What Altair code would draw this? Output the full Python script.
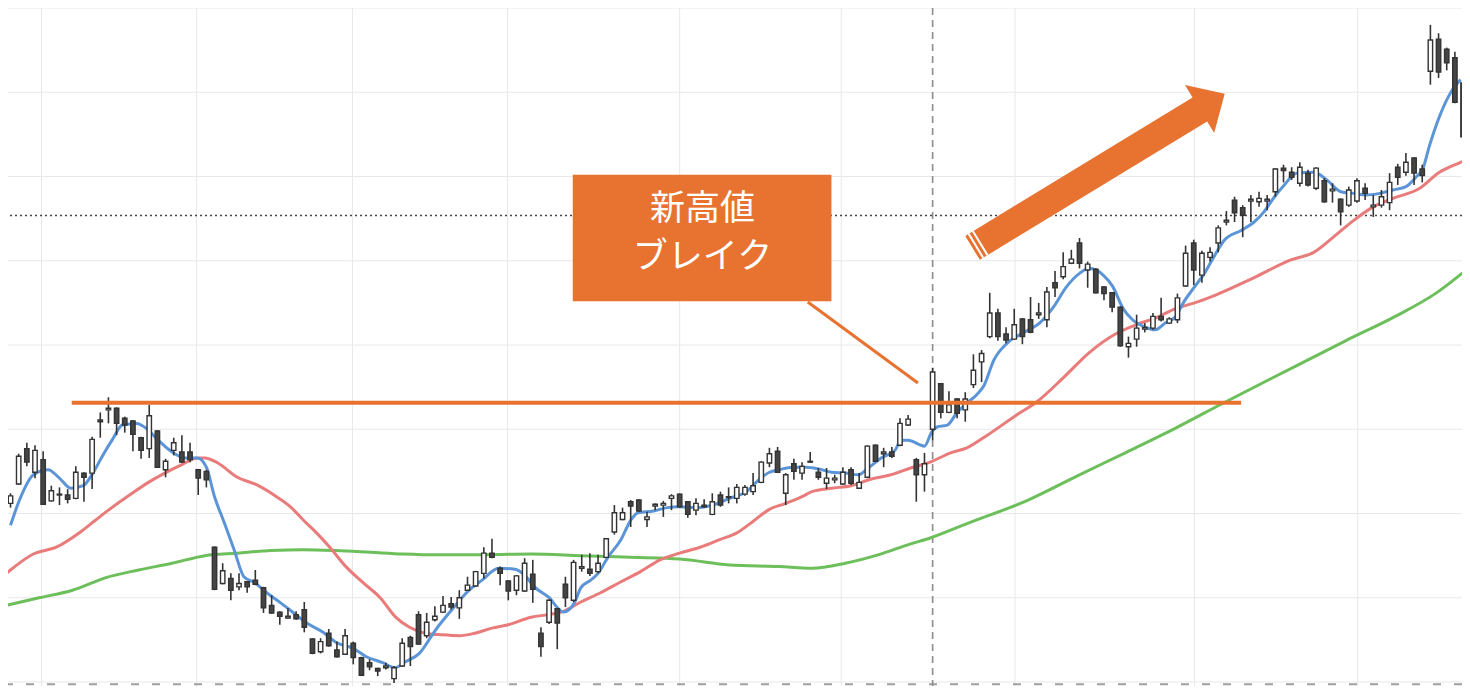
import altair as alt
import pandas as pd

# ---- candle data (index = trading day) ----
OPEN = [1012,1035,1077,1049,1064,1015,1022,1022,1018,1048,1048,1111,1123,1125,1113,1110,1090,1077,1098,1052,
        1075,1073,1073,1052,1050,960,917,923,913,919,921,912,891,883,876,880,886,851,836,858,
        838,833,846,829,823,816,817,804,819,853,880,855,874,883,893,888,909,914,929,953,
        935,920,909,908,928,858,871,887,916,897,935,934,931,948,978,993,1014,1016,993,1009,
        1010,1018,1023,1014,1004,1010,999,1022,1020,1018,1023,1026,1037,1060,1074,1024,1059,1048,1061,1049,
        1036,1040,1035,1052,1030,1043,1081,1071,1073,1081,1105,1064,1046,1100,1154,1120,1136,1123,1153,1180,
        1210,1238,1213,1207,1231,1230,1236,1230,1274,1281,1297,1321,1289,1290,1269,1262,1245,1198,1207,1219,
        1220,1234,1226,1230,1270,1321,1283,1304,1321,1346,1372,1363,1371,1370,1371,1382,1410,1405,1392,1404,
        1386,1395,1383,1373,1366,1371,1386,1364,1366,1369,1411,1405,1422,1409,1525,1563,1551,1541,1511]
HIGH = [1024,1071,1084,1081,1074,1033,1031,1029,1056,1049,1091,1120,1138,1126,1115,1111,1091,1129,1099,1065,
        1090,1093,1084,1053,1052,961,941,929,929,920,933,913,903,884,888,884,895,852,852,863,
        848,863,848,830,827,817,823,819,852,855,884,882,890,902,901,909,925,932,960,970,
        937,921,927,947,945,865,898,888,925,945,951,953,951,971,1010,1007,1016,1017,1002,1012,
        1015,1023,1024,1015,1018,1017,1024,1026,1031,1035,1034,1048,1062,1078,1079,1048,1065,1061,1073,1054,
        1054,1046,1055,1055,1048,1081,1082,1078,1079,1113,1117,1066,1072,1173,1155,1145,1137,1144,1189,1194,
        1262,1243,1221,1243,1232,1257,1250,1269,1288,1310,1313,1327,1299,1291,1270,1263,1246,1210,1236,1226,
        1238,1256,1233,1261,1318,1325,1312,1316,1342,1359,1376,1366,1378,1382,1378,1410,1414,1411,1417,1408,
        1411,1398,1392,1374,1388,1398,1392,1378,1384,1404,1415,1428,1423,1414,1580,1570,1553,1548,1515]
LOW = [1007,1034,1056,1042,1010,1014,1010,1012,1017,1014,1029,1090,1107,1093,1096,1074,1065,1066,1054,1043,
       1069,1060,1061,1022,1031,909,916,897,909,906,915,882,881,868,875,874,859,833,834,842,
       829,832,821,807,814,807,815,799,818,819,844,852,872,882,886,875,908,913,923,947,
       915,897,903,907,894,830,869,839,889,895,931,926,929,947,975,992,984,1002,984,1004,
       996,1004,1007,995,998,1007,998,1008,1012,1012,1021,1022,1036,1055,1048,1010,1040,1040,1060,1040,
       1029,1036,1034,1034,1029,1042,1061,1055,1066,1080,1104,1014,1026,1087,1113,1119,1113,1109,1149,1156,
       1208,1205,1202,1206,1201,1214,1231,1221,1257,1278,1296,1291,1268,1261,1253,1239,1198,1185,1198,1215,
       1218,1228,1225,1226,1269,1271,1274,1299,1310,1342,1346,1328,1346,1364,1360,1376,1393,1396,1388,1388,
       1384,1369,1369,1342,1364,1369,1372,1352,1363,1360,1390,1401,1390,1393,1509,1517,1526,1487,1446]
CLOSE = [1021,1068,1061,1075,1011,1027,1023,1017,1049,1043,1088,1109,1125,1107,1105,1094,1075,1116,1055,1062,
         1084,1061,1064,1042,1040,910,932,909,917,913,916,888,882,878,878,875,865,834,848,843,
         830,855,829,808,818,813,819,817,846,842,845,871,878,891,889,900,915,931,953,948,
         929,908,926,941,910,842,897,870,900,942,937,929,941,970,1001,1001,1009,1003,996,1011,
         1012,1021,1008,999,1012,1008,1014,1010,1019,1031,1031,1033,1061,1071,1049,1046,1050,1056,1062,1043,
         1042,1042,1049,1036,1037,1080,1062,1073,1068,1107,1112,1046,1059,1168,1120,1129,1119,1136,1170,1190,
         1238,1210,1206,1224,1210,1215,1238,1263,1268,1293,1302,1297,1296,1262,1261,1245,1199,1202,1220,1221,
         1234,1230,1231,1256,1309,1289,1309,1310,1339,1348,1357,1354,1373,1374,1373,1409,1407,1399,1411,1390,
         1410,1370,1385,1358,1384,1395,1380,1366,1376,1393,1399,1417,1404,1401,1562,1524,1535,1488,1447]

# ---- moving averages: (day index, price) ----
MA_SHORT = [(0,986),(1.1,1016),(2.8,1046),(4.6,1052),(5.9,1043),(7.4,1030),(8.9,1033),(10.1,1048),(11.3,1069),
            (12.5,1088),(13.7,1105),(15.5,1107),(16.5,1102),(18.1,1087),(19.8,1073),(21.4,1066),(22.9,1066),
            (24.0,1055),(25.0,1020),(26.2,989),(27.4,957),(28.6,925),(29.9,918),(31.4,906),(33.1,894),
            (34.7,882),(36.3,870),(38.3,859),(39.9,847),(42.0,840),(43.6,830),(45.6,823),(47.1,817),
            (48.4,824),(50.1,834),(52.1,862),(54.1,886),(56.2,909),(57.8,921),(59.8,935),(61.8,934),
            (63.0,927),(64.2,913),(65.9,901),(67.8,883),(69.1,894),(69.9,912),(71.1,921),(72.0,929),
            (73.2,948),(74.8,969),(76.0,992),(76.9,1001),(78.8,1003),(80.5,1007),(82.0,1008),(84.1,1007),
            (86.0,1010),(88.1,1018),(90.2,1026),(91.7,1040),(93.0,1049),(94.2,1052),(95.8,1055),(97.5,1055),
            (99.0,1053),(100.6,1049),(102.3,1048),(103.9,1046),(105.1,1054),(106.7,1066),(108.4,1075),
            (109.1,1087),(110.0,1087),(112.0,1080),(112.9,1097),(113.6,1103),(114.8,1105),(116.0,1120),
            (117.2,1131),(118.4,1141),(119.3,1152),(120.5,1182),(122.1,1202),(124.2,1215),(126.1,1226),
            (127.8,1245),(129.4,1269),(131.0,1285),(132.2,1291),(133.9,1283),(135.1,1269),(136.3,1244),
            (137.5,1230),(139.1,1221),(140.3,1218),(141.5,1226),(142.7,1233),(143.9,1253),(145.1,1269),
            (146.3,1285),(147.6,1307),(148.8,1325),(150.8,1336),(152.4,1346),(153.6,1358),(154.9,1376),
            (156.1,1390),(157.6,1404),(159.7,1405),(161.3,1396),(163.0,1382),(164.6,1380),(166.1,1378),
            (167.8,1380),(169.4,1384),(171.0,1388),(172.2,1399),(173.1,1410),(173.9,1437),(175.1,1471),
            (176.7,1503),(177.7,1515)]
MA_MID = [(-0.5,929),(2.8,952),(5.6,960),(8.4,977),(10.4,992),(12.0,1004),(14.9,1024),(16.9,1037),(18.9,1048),
          (21.0,1058),(22.9,1066),(23.8,1066),(25.4,1060),(27.8,1043),(30.2,1034),(32.6,1020),(34.3,1008),
          (35.9,992),(37.5,977),(39.2,959),(41.1,937),(43.2,918),(45.3,900),(47.2,877),(48.9,865),(50.8,858),
          (52.9,856),(55.0,855),(56.9,858),(59.0,864),(61.0,868),(63.8,877),(65.9,880),(67.5,883),(69.9,895),
          (72.3,906),(74.8,919),(77.2,931),(79.6,945),(82.0,953),(84.5,960),(86.9,969),(89.0,977),(90.9,990),
          (93.0,1005),(95.0,1012),(97.0,1020),(98.2,1026),(100.6,1030),(103.0,1033),(105.5,1041),(107.9,1046),
          (110.3,1054),(112.7,1061),(115.2,1072),(117.2,1078),(119.7,1093),(123.3,1117),(125.7,1132),
          (129.0,1161),(132.2,1191),(135.4,1213),(137.9,1224),(140.3,1232),(142.7,1243),(145.1,1250),
          (147.6,1259),(152.4,1280),(156.9,1301),(159.7,1310),(162.1,1328),(164.6,1348),(167.0,1364),
          (169.4,1374),(172.7,1386),(175.1,1405),(177.5,1416),(178.5,1420)]
MA_LONG = [(-0.5,891),(3.5,900),(7.6,909),(11.7,924),(15.7,933),(19.8,941),(23.8,950),(27.8,953),(31.9,956),
           (35.9,957),(39.9,956),(44.1,954),(48.1,952),(52.1,951),(56.2,951),(63.8,952),(69.9,950),(76.0,948),
           (82.0,946),(88.1,939),(94.2,937),(98.2,935),(102.3,941),(106.3,951),(110.3,964),(112.7,971),
           (117.2,988),(124.7,1016),(130.8,1045),(136.8,1073),(142.9,1102),(148.4,1130),(157.5,1175),
           (163.6,1205),(169.7,1234),(174.6,1261),(178.5,1290)]

# ---- reference lines / grid ----
GRID_PRICES = [800, 900, 1000, 1100, 1200, 1300, 1400, 1500, 1600]
GRID_DAYS = [3.8, 22.8, 41.9, 60.9, 82.0, 101.8, 123.1, 145.1, 165.1]
BREAK_DAY = [113]
LAST_PRICE = [1353.7]
BOTTOM_LINE = [797.5]
RESIST = {"x": [7.5], "x2": [150.8], "y": [1131.5]}
BOX = {"x": [68.9], "x2": [100.6], "y": [1402], "y2": [1252]}
LABELS = {"x": [84.8, 84.8], "y": [1362, 1305], "t": ["新高値", "ブレイク"]}
POINTER = {"x": [97.7], "y": [1251], "x2": [111.2], "y2": [1155]}
ARROW_SHAFT = {"x": [117.89, 146.05], "y": [1315.3, 1481.4]}
ARROW_STRIPES = {"x": [119.19, 119.72], "y": [1303.6, 1306.7], "x2": [117.42, 117.94], "y2": [1331.9, 1335.0]}
ARROW_HEAD = {"x": [147.18], "y": [1488.8]}

ORANGE = "#E8722F"
CANDLE_DARK = "#454545"
CANDLE_EDGE = "#333333"

XS = alt.Scale(domain=[0.304, 177.26], nice=False, zero=False)
YS = alt.Scale(domain=[795.3, 1600], nice=False, zero=False)


def X(f):
    return alt.X(f, type="quantitative", scale=XS, axis=None)


def Y(f):
    return alt.Y(f, type="quantitative", scale=YS, axis=None)


candles = pd.DataFrame({"d": list(range(len(OPEN))), "o": OPEN, "h": HIGH, "l": LOW, "c": CLOSE})

hgrid = alt.Chart(pd.DataFrame({"p": GRID_PRICES})).mark_rule(color="#E8E8E8", strokeWidth=1).encode(y=Y("p"))
vgrid = alt.Chart(pd.DataFrame({"g": GRID_DAYS})).mark_rule(color="#E8E8E8", strokeWidth=1).encode(x=X("g"))
dotted = alt.Chart(pd.DataFrame({"p": LAST_PRICE})).mark_rule(
    color="#444444", strokeWidth=1.3, strokeDash=[2, 3]).encode(y=Y("p"))
vdash = alt.Chart(pd.DataFrame({"g": BREAK_DAY})).mark_rule(
    color="#8C8C8C", strokeWidth=1.6, strokeDash=[7, 5]).encode(x=X("g"))
bdash = alt.Chart(pd.DataFrame({"p": BOTTOM_LINE})).mark_rule(
    color="#A0A0A0", strokeWidth=2, strokeDash=[8, 13]).encode(y=Y("p"))


def ma_layer(points, color):
    df = pd.DataFrame(points, columns=["d", "v"])
    return alt.Chart(df).mark_line(color=color, strokeWidth=3, clip=True, interpolate="monotone").encode(
        x=X("d"), y=Y("v"))


green = ma_layer(MA_LONG, "#6CBF5B")
red = ma_layer(MA_MID, "#E97B7B")
blue = ma_layer(MA_SHORT, "#5B95D8")

wick = alt.Chart(candles).mark_rule(color=CANDLE_EDGE, strokeWidth=1.6, clip=True).encode(
    x=X("d"), y=Y("l"), y2="h")
body = alt.Chart(candles).mark_bar(size=4.4, stroke=CANDLE_EDGE, strokeWidth=1.4, clip=True).encode(
    x=X("d"), y=Y("o"), y2="c",
    fill=alt.condition("datum.c >= datum.o", alt.value("#FFFFFF"), alt.value(CANDLE_DARK)))

resist = alt.Chart(pd.DataFrame(RESIST)).mark_rule(color=ORANGE, strokeWidth=4).encode(
    x=X("x"), x2="x2", y=Y("y"))
pointer = alt.Chart(pd.DataFrame(POINTER)).mark_rule(color=ORANGE, strokeWidth=3).encode(
    x=X("x"), x2="x2", y=Y("y"), y2="y2")
box = alt.Chart(pd.DataFrame(BOX)).mark_rect(color=ORANGE).encode(x=X("x"), x2="x2", y=Y("y"), y2="y2")
labels = alt.Chart(pd.DataFrame(LABELS)).mark_text(
    color="#FFFFFF", fontSize=35, font="Noto Sans CJK JP", fontWeight="normal",
    align="center", baseline="middle").encode(x=X("x"), y=Y("y"), text="t:N")

shaft = alt.Chart(pd.DataFrame(ARROW_SHAFT)).mark_line(
    color=ORANGE, strokeWidth=28, strokeCap="butt").encode(x=X("x"), y=Y("y"))
stripes = alt.Chart(pd.DataFrame(ARROW_STRIPES)).mark_rule(color="#FFFFFF", strokeWidth=2).encode(
    x=X("x"), x2="x2", y=Y("y"), y2="y2")
head = alt.Chart(pd.DataFrame(ARROW_HEAD)).mark_point(
    shape="M-0.5,-1L0.55,0L-0.5,1Z", size=3136, filled=True, opacity=1, color=ORANGE,
    angle=328.6).encode(x=X("x"), y=Y("y"))

chart = alt.layer(
    hgrid, vgrid, bdash, vdash, dotted, green, red, blue, wick, body,
    resist, pointer, box, labels, shaft, stripes, head
).properties(
    width=1454, height=678, padding=0, background="#FFFFFF",
    autosize=alt.AutoSizeParams(type="none")
).configure_view(stroke=None)

chart.save("out.html", embed_options={"renderer": "svg", "actions": False})
